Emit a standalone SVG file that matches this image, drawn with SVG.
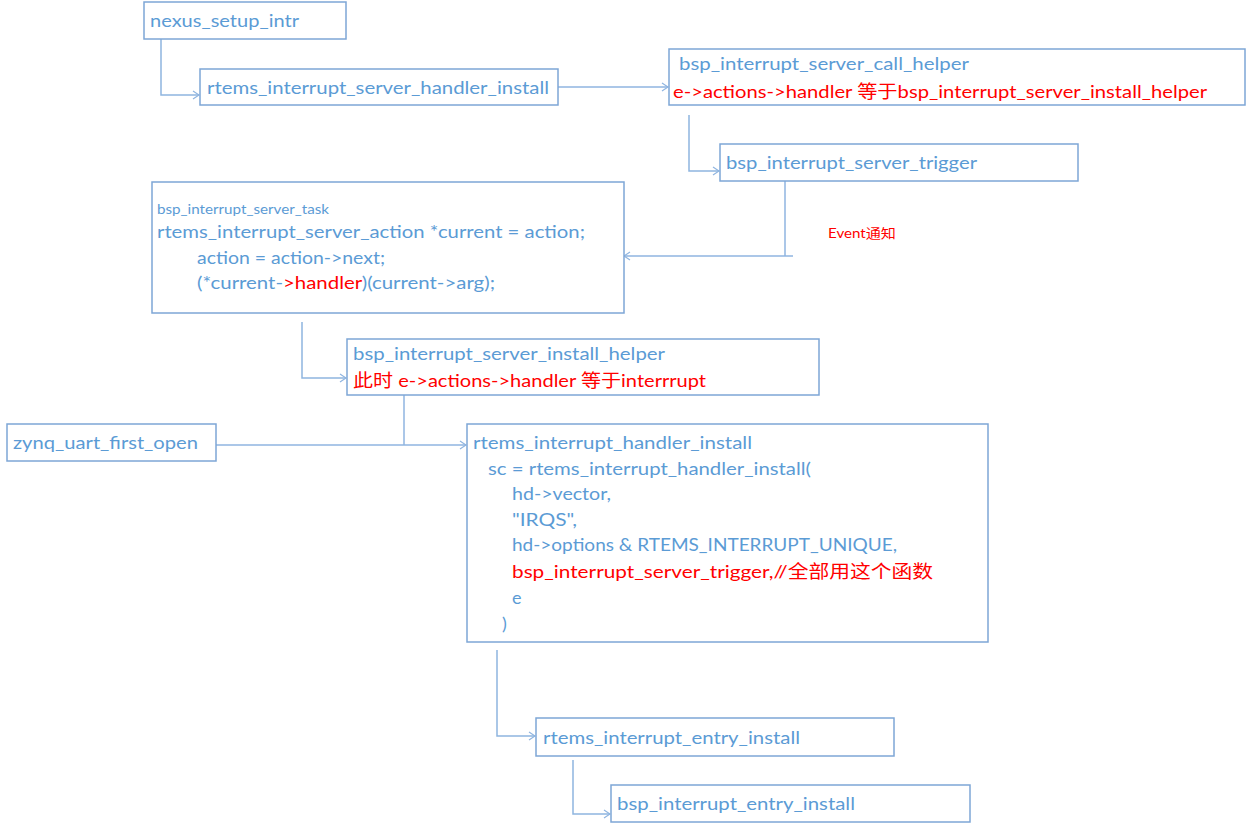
<svg xmlns="http://www.w3.org/2000/svg" width="1247" height="827" viewBox="0 0 1247 827">
<style>
.box{fill:#ffffff;stroke:#7ea6d6;stroke-width:1.5}
.t{font-family:Lato,"Noto Sans CJK SC",sans-serif;font-size:18px;fill:#5b9bd5}
.r{fill:#ff0000}
.s{font-size:13px}
.c{fill:none;stroke:#8fb5e0;stroke-width:1.5}
</style>
<defs>
<marker id="ah" markerWidth="8" markerHeight="10" refX="7" refY="5" orient="auto" markerUnits="userSpaceOnUse">
<path d="M1,1 L7,5 L1,9" fill="none" stroke="#8fb5e0" stroke-width="1.2"/>
</marker>
</defs>
<rect width="1247" height="827" fill="#ffffff"/>
<g id="connectors">
<path class="c" d="M161,39 V95 H199" marker-end="url(#ah)"/>
<path class="c" d="M558,87 H668" marker-end="url(#ah)"/>
<path class="c" d="M689,115 V171 H719" marker-end="url(#ah)"/>
<path class="c" d="M785,181 V256"/>
<path class="c" d="M793,256 H624" marker-end="url(#ah)"/>
<path class="c" d="M302,322 V378 H346" marker-end="url(#ah)"/>
<path class="c" d="M404,395 V445"/>
<path class="c" d="M216,445 H466" marker-end="url(#ah)"/>
<path class="c" d="M497,650 V736 H535" marker-end="url(#ah)"/>
<path class="c" d="M573,760 V814 H610" marker-end="url(#ah)"/>
<text class="t r" x="828" y="238" font-size="13" style="font-size:13px" textLength="68" lengthAdjust="spacingAndGlyphs">Event通知</text>
</g>
<g id="nexus_setup_intr">
<rect class="box" x="144" y="2" width="202" height="37"/>
<text class="t" x="150" y="27" textLength="149" lengthAdjust="spacingAndGlyphs">nexus_setup_intr</text>
</g>
<g id="rtems_interrupt_server_handler_install">
<rect class="box" x="200" y="69" width="358" height="36"/>
<text class="t" x="207" y="94" textLength="342" lengthAdjust="spacingAndGlyphs">rtems_interrupt_server_handler_install</text>
</g>
<g id="bsp_interrupt_server_call_helper">
<rect class="box" x="669" y="49" width="576" height="56"/>
<text class="t" x="679" y="70" textLength="290" lengthAdjust="spacingAndGlyphs">bsp_interrupt_server_call_helper</text>
<text class="t r" x="673" y="98" textLength="534" lengthAdjust="spacingAndGlyphs">e-&gt;actions-&gt;handler 等于bsp_interrupt_server_install_helper</text>
</g>
<g id="bsp_interrupt_server_trigger">
<rect class="box" x="720" y="144" width="358" height="37"/>
<text class="t" x="726" y="169" textLength="251" lengthAdjust="spacingAndGlyphs">bsp_interrupt_server_trigger</text>
</g>
<g id="bsp_interrupt_server_task">
<rect class="box" x="152" y="182" width="472" height="131"/>
<text class="t s" x="157" y="214" textLength="172" lengthAdjust="spacingAndGlyphs">bsp_interrupt_server_task</text>
<text class="t" x="157" y="238" textLength="428" lengthAdjust="spacingAndGlyphs">rtems_interrupt_server_action *current = action;</text>
<text class="t" x="197" y="264" textLength="188" lengthAdjust="spacingAndGlyphs">action = action-&gt;next;</text>
<text class="t" x="197" y="289" textLength="298" lengthAdjust="spacingAndGlyphs">(*current-<tspan class="r">&gt;handler</tspan>)(current-&gt;arg);</text>
</g>
<g id="bsp_interrupt_server_install_helper">
<rect class="box" x="347" y="339" width="472" height="56"/>
<text class="t" x="353" y="360" textLength="312" lengthAdjust="spacingAndGlyphs">bsp_interrupt_server_install_helper</text>
<text class="t r" x="353" y="387" textLength="353" lengthAdjust="spacingAndGlyphs">此时 e-&gt;actions-&gt;handler 等于interrrupt</text>
</g>
<g id="zynq_uart_first_open">
<rect class="box" x="7" y="424" width="209" height="37"/>
<text class="t" x="13" y="449" textLength="185" lengthAdjust="spacingAndGlyphs">zynq_uart_first_open</text>
</g>
<g id="rtems_interrupt_handler_install">
<rect class="box" x="467" y="424" width="521" height="218"/>
<text class="t" x="473" y="449" textLength="279" lengthAdjust="spacingAndGlyphs">rtems_interrupt_handler_install</text>
<text class="t" x="488" y="475" textLength="323" lengthAdjust="spacingAndGlyphs">sc = rtems_interrupt_handler_install(</text>
<text class="t" x="512" y="500" textLength="99" lengthAdjust="spacingAndGlyphs">hd-&gt;vector,</text>
<text class="t" x="512" y="526" textLength="65" lengthAdjust="spacingAndGlyphs">"IRQS",</text>
<text class="t" x="512" y="551" textLength="385" lengthAdjust="spacingAndGlyphs">hd-&gt;options &amp; RTEMS_INTERRUPT_UNIQUE,</text>
<text class="t r" x="512" y="578" textLength="421" lengthAdjust="spacingAndGlyphs">bsp_interrupt_server_trigger,//全部用这个函数</text>
<text class="t" x="512" y="604">e</text>
<text class="t" x="502" y="630">)</text>
</g>
<g id="rtems_interrupt_entry_install">
<rect class="box" x="536" y="718" width="358" height="38"/>
<text class="t" x="543" y="744" textLength="257" lengthAdjust="spacingAndGlyphs">rtems_interrupt_entry_install</text>
</g>
<g id="bsp_interrupt_entry_install">
<rect class="box" x="611" y="785" width="359" height="37"/>
<text class="t" x="617" y="810" textLength="238" lengthAdjust="spacingAndGlyphs">bsp_interrupt_entry_install</text>
</g>
</svg>
